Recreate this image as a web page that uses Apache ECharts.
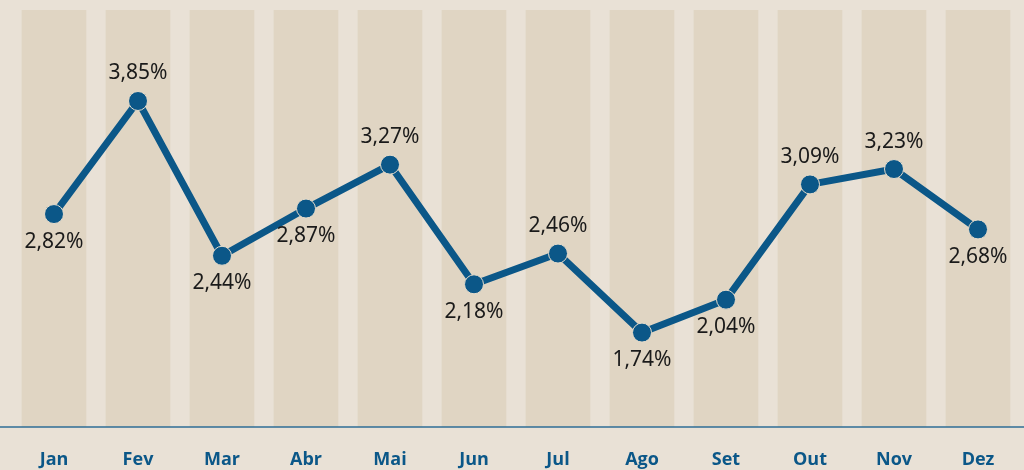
<!DOCTYPE html>
<html>
<head>
<meta charset="utf-8">
<script src="https://cdn.jsdelivr.net/npm/echarts@6/dist/echarts.min.js"></script>
<style>
  html, body { margin: 0; padding: 0; background: #e9e1d6; }
  #chart { width: 1024px; height: 470px; }
</style>
</head>
<body>
<div id="chart"></div>
<script>
// meses e taxas
var months = ['Jan', 'Fev', 'Mar', 'Abr', 'Mai', 'Jun', 'Jul', 'Ago', 'Set', 'Out', 'Nov', 'Dez'];
var rates = [2.82, 3.85, 2.44, 2.87, 3.27, 2.18, 2.46, 1.74, 2.04, 3.09, 3.23, 2.68];
var labelSide = ['bottom', 'top', 'bottom', 'bottom', 'top', 'bottom', 'top', 'bottom', 'bottom', 'top', 'top', 'bottom'];

var yMin = 0.88, yMax = 4.77;
var bandTop = 4.68;
var blue = '#0b5788';

var chart = echarts.init(document.getElementById('chart'));

var bands = months.map(function () { return bandTop; });
var points = rates.map(function (v, i) {
  return { value: v, label: { position: labelSide[i] } };
});

chart.setOption({
  animation: false,
  backgroundColor: '#e9e1d6',
  grid: { left: 12, right: 4, top: 0, bottom: 43 },
  xAxis: {
    type: 'category',
    data: months,
    z: 5,
    axisLine: { show: false },
    axisTick: { show: false },
    axisLabel: {
      color: blue,
      fontFamily: 'Open Sans',
      fontWeight: 'bold',
      fontSize: 18,
      margin: 24
    }
  },
  yAxis: {
    type: 'value',
    min: yMin,
    max: yMax,
    show: false,
    splitLine: { show: false }
  },
  series: [{
    type: 'bar',
    data: bands,
    barWidth: '77%',
    itemStyle: { color: '#e0d5c3' },
    silent: true,
    z: 1
  }, {
    type: 'line',
    data: points,
    symbol: 'circle',
    symbolSize: 19,
    lineStyle: { color: blue, width: 7 },
    itemStyle: { color: blue, borderColor: '#e6dccb', borderWidth: 1 },
    label: {
      show: true,
      distance: 7,
      color: '#1a1a1a',
      fontFamily: 'Noto Sans',
      fontSize: 21,
      formatter: function (p) {
        return p.value.toFixed(2).replace('.', ',') + '%';
      }
    },
    z: 3
  }]
});

// linha de base ocupando toda a largura
var baseY = chart.convertToPixel({ yAxisIndex: 0 }, yMin);
chart.setOption({
  graphic: [{
    type: 'line',
    z: 10,
    shape: { x1: 0, y1: baseY, x2: chart.getWidth(), y2: baseY },
    style: { stroke: '#2e6d96', lineWidth: 1.5 }
  }]
});
</script>
</body>
</html>
